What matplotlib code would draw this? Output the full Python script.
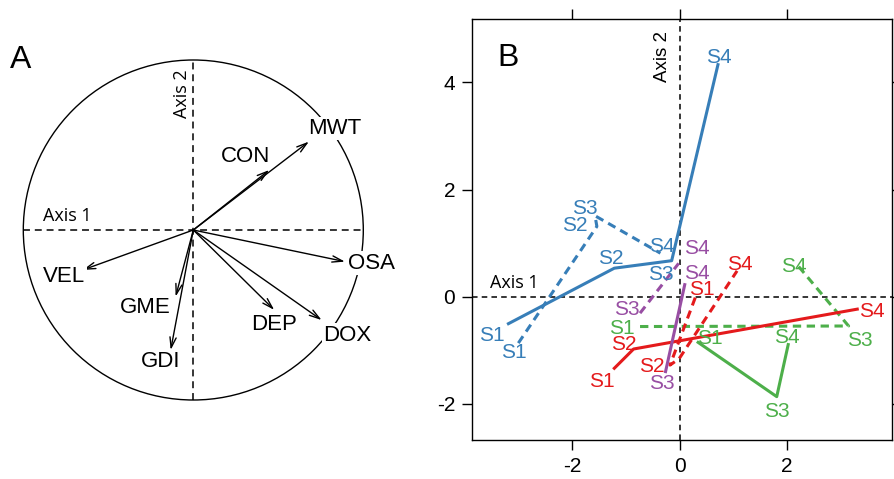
import numpy as np
import matplotlib
matplotlib.use("Agg")
import matplotlib.pyplot as plt
from matplotlib.patches import Circle, FancyArrowPatch

plt.rcParams['font.family'] = ['Liberation Sans', 'DejaVu Sans']
plt.rcParams['lines.scale_dashes'] = False
plt.rcParams['axes.unicode_minus'] = False

# ---- panel A : correlation circle ----
var_names = ['MWT', 'CON', 'OSA', 'DOX', 'DEP', 'VEL', 'GME', 'GDI']
var_x = [0.68, 0.447, 0.892, 0.755, 0.476, -0.65, -0.104, -0.133]
var_y = [0.52, 0.353, -0.186, -0.53, -0.47, -0.235, -0.392, -0.706]
lab_x = [0.833, 0.31, 1.049, 0.906, 0.475, -0.759, -0.28, -0.19]
lab_y = [0.598, 0.431, -0.196, -0.618, -0.553, -0.275, -0.455, -0.775]

# ---- panel B : trajectories (colour, linestyle, sites, x, y, label offsets in pt) ----
blue, red, green, purple = '#377EB8', '#E41A1C', '#4DAF4A', '#984EA3'

blue_solid_sites = ['S1', 'S2', 'S3', 'S4']
blue_solid_x = [-3.22, -1.22, -0.15, 0.72]
blue_solid_y = [-0.52, 0.53, 0.67, 4.36]
blue_solid_off = [(-10.8, -7.7), (-2.2, 6.7), (-7.7, -10.1), (0.5, 3.8)]

blue_dash_sites = ['S1', 'S2', 'S3', 'S4']
blue_dash_x = [-3.01, -1.545, -1.58, -0.36]
blue_dash_y = [-0.87, 1.31, 1.51, 0.81]
blue_dash_off = [(-3.1, -7.0), (-15.6, 0.5), (-7.2, 5.5), (1.2, 4.8)]

green_solid_sites = ['S1', 'S3', 'S4']
green_solid_x = [0.32, 1.81, 2.03]
green_solid_y = [-0.84, -1.87, -0.87]
green_solid_off = [(9.6, 2.4), (0.4, -10.8), (-1.2, 4.3)]

green_dash_sites = ['S1', 'S3', 'S4']
green_dash_x = [-0.74, 3.15, 2.22]
green_dash_y = [-0.56, -0.55, 0.56]
green_dash_off = [(-13.2, -1.2), (8.4, -10.1), (-3.6, 0.0)]

red_solid_sites = ['S1', 'S2', 'S4']
red_solid_x = [-1.24, -0.86, 3.34]
red_solid_y = [-1.36, -0.98, -0.23]
red_solid_off = [(-8.4, -8.9), (-7.2, 3.1), (9.6, -1.9)]

red_dash_sites = ['S1', 'S2', '', 'S4']
red_dash_x = [0.29, -0.18, -0.01, 1.07]
red_dash_y = [-0.02, -1.28, -1.16, 0.48]
red_dash_off = [(4.8, 5.8), (-13.2, -1.2), (0, 0), (2.2, 4.3)]

purple_solid_sites = ['S3', 'S4']
purple_solid_x = [-0.27, 0.10]
purple_solid_y = [-1.43, 0.25]
purple_solid_off = [(-2.4, -7.7), (8.4, 7.2)]

purple_dash_sites = ['S3', 'S4']
purple_dash_x = [-0.74, -0.02]
purple_dash_y = [-0.31, 0.62]
purple_dash_off = [(-9.6, 2.4), (13.2, 10.8)]

trajectories = [
    (blue, '-', blue_solid_sites, blue_solid_x, blue_solid_y, blue_solid_off),
    (blue, '--', blue_dash_sites, blue_dash_x, blue_dash_y, blue_dash_off),
    (green, '-', green_solid_sites, green_solid_x, green_solid_y, green_solid_off),
    (green, '--', green_dash_sites, green_dash_x, green_dash_y, green_dash_off),
    (red, '-', red_solid_sites, red_solid_x, red_solid_y, red_solid_off),
    (red, '--', red_dash_sites, red_dash_x, red_dash_y, red_dash_off),
    (purple, '-', purple_solid_sites, purple_solid_x, purple_solid_y, purple_solid_off),
    (purple, '--', purple_dash_sites, purple_dash_x, purple_dash_y, purple_dash_off),
]

W, H = 895, 479
fig = plt.figure(figsize=(W / 100, H / 100), dpi=100)

# panel A
axA = fig.add_axes([0, 0, 400 / W, 1])
axA.set_xlim(-193.3 / 170, (400 - 193.3) / 170)
axA.set_ylim((230 - 479) / 170, 230 / 170)
axA.axis('off')
axA.add_patch(Circle((0, 0), 1, fill=False, lw=1.0, color='black'))
axA.plot([-1, 1], [0, 0], color='black', lw=1.1, dashes=(5, 3.5))
axA.plot([0, 0], [-1, 1], color='black', lw=1.1, dashes=(5, 3.5))
for i, name in enumerate(var_names):
    arr = FancyArrowPatch((0, 0), (var_x[i], var_y[i]),
                          arrowstyle='->,head_length=1.0,head_width=0.3',
                          mutation_scale=7.5, lw=1.0, color='black',
                          shrinkA=0, shrinkB=0)
    axA.add_patch(arr)
    axA.text(lab_x[i], lab_y[i], name, fontsize=16, ha='center', va='center',
             bbox=dict(fc='white', ec='none', pad=1.0), zorder=5)
axA.text(-0.741, 0.082, 'Axis 1', family='Open Sans', fontsize=13,
         ha='center', va='center')
axA.text(-0.068, 0.804, 'Axis 2', family='Open Sans', fontsize=13,
         ha='center', va='center', rotation=90)

# panel B
axB = fig.add_axes([471.7 / W, 39 / H, 420.3 / W, 420.7 / H])
axB.set_xlim(-3.88, 3.96)
axB.set_ylim(-2.68, 5.18)
axB.axhline(0, color='black', lw=1.1, dashes=(4, 3))
axB.axvline(0, color='black', lw=1.1, dashes=(4, 3))
for color, ls, sites, xs, ys, offs in trajectories:
    if ls == '-':
        axB.plot(xs, ys, color=color, lw=2.2, solid_capstyle='butt')
    else:
        axB.plot(xs, ys, color=color, lw=2.2, dashes=(6, 4))
    for s, x, y, o in zip(sites, xs, ys, offs):
        if s:
            axB.annotate(s, (x, y), xytext=o, textcoords='offset points',
                         color=color, fontsize=15, ha='center', va='center')
axB.text(-3.09, 0.25, 'Axis 1', family='Open Sans', fontsize=13,
         ha='center', va='center')
axB.text(-0.33, 4.49, 'Axis 2', fontsize=13.5,
         ha='center', va='center', rotation=90)

axB.set_xticks([-2, 0, 2])
axB.set_yticks([-2, 0, 2, 4])
axB.tick_params(direction='out', length=7, width=1, labelsize=15,
                top=True, right=True, pad=5)
for sp in axB.spines.values():
    sp.set_linewidth(1.0)

fig.text(20.7 / W, 1 - 60 / H, 'A', fontsize=23, ha='center', va='center')
fig.text(508 / W, 1 - 58 / H, 'B', fontsize=23, ha='center', va='center')

fig.savefig('out.png', dpi=100)
